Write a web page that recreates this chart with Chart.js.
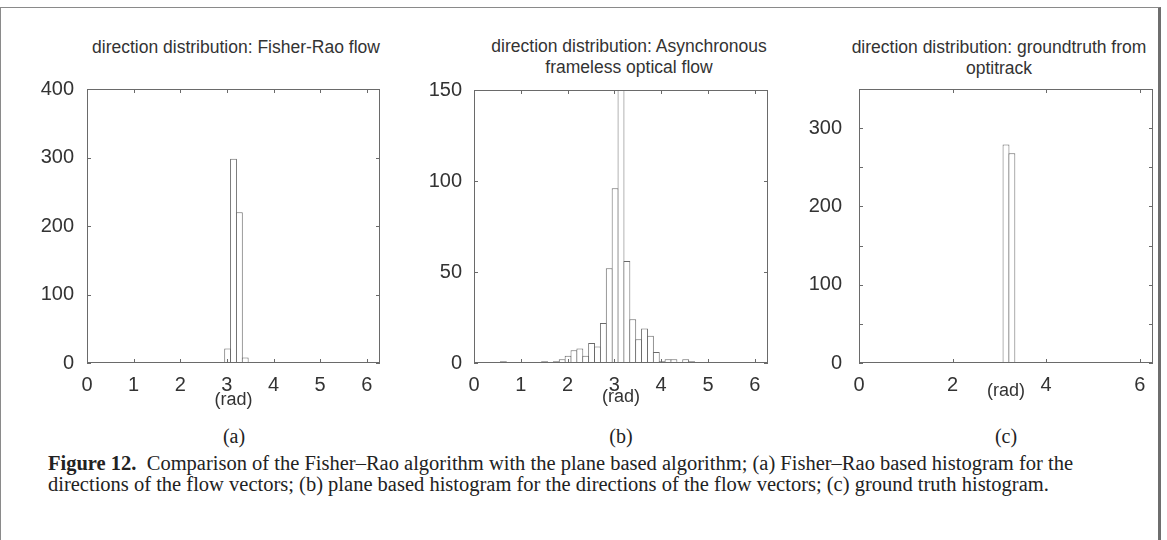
<!DOCTYPE html>
<html>
<head>
<meta charset="utf-8">
<script src="https://cdn.jsdelivr.net/npm/chart.js@4.4.1/dist/chart.umd.min.js"></script>
<style>
  body { margin: 0; background: #fff; width: 1167px; height: 540px; position: relative; overflow: hidden;
         font-family: "Liberation Sans", Arial, sans-serif; }
  .frame { position: absolute; left: 0; top: 7px; width: 1161px; height: 540px; box-sizing: border-box;
           border-top: 1px solid #8a8a8a; border-left: 1px solid #8a8a8a; border-right: 3px solid #6e6e6e; }
  canvas { position: absolute; }
  .ptitle { position: absolute; font-size: 17.5px; line-height: 21px; color: #333; text-align: center;
            white-space: nowrap; transform: translateX(-50%); }
  .sub { position: absolute; font-family: "Liberation Serif", serif; font-size: 20px; line-height: 24px;
         color: #222; transform: translateX(-50%); }
  .caption { position: absolute; left: 48px; top: 453px; font-family: "Liberation Serif", serif;
             font-size: 20.5px; line-height: 21px; color: #222; white-space: nowrap; }
</style>
</head>
<body>
<div class="frame"></div>

<div class="ptitle" style="left:236px; top:37px;">direction distribution: Fisher-Rao flow</div>
<div class="ptitle" style="left:629px; top:36px;">direction distribution: Asynchronous<br>frameless optical flow</div>
<div class="ptitle" style="left:999px; top:37px;">direction distribution: groundtruth from<br>optitrack</div>

<canvas id="chart-fisher" width="358" height="354" style="left:27px; top:57px;"></canvas>
<canvas id="chart-afof" width="359" height="350" style="left:414px; top:58px;"></canvas>
<canvas id="chart-truth" width="359" height="345" style="left:799px; top:57px;"></canvas>

<div class="sub" style="left:234px; top:424px;">(a)</div>
<div class="sub" style="left:621px; top:424px;">(b)</div>
<div class="sub" style="left:1006px; top:424px;">(c)</div>

<div class="caption"><b>Figure 12.</b>&nbsp; Comparison of the Fisher–Rao algorithm with the plane based algorithm; (a) Fisher–Rao based histogram for the<br>directions of the flow vectors; (b) plane based histogram for the directions of the flow vectors; (c) ground truth histogram.</div>

<script>
// Histogram bins (rad) and counts
const X_MAX = 6.2832;

const fisherBins = [3.0159, 3.1416, 3.2673, 3.3929];
const fisherCounts = [21, 298, 220, 8];
const fisherXTicks = [0, 1, 2, 3, 4, 5, 6];
const fisherYTicks = [0, 100, 200, 300, 400];

const afofBins = [0.6283, 1.5080, 1.7593, 1.8850, 2.0106, 2.1363, 2.2619, 2.3876, 2.5133, 2.6389,
                  2.7646, 2.8903, 3.0159, 3.1416, 3.2673, 3.3929, 3.5186, 3.6442, 3.7699, 3.8956,
                  4.0212, 4.1469, 4.2726, 4.5239, 4.6496];
const afofCounts = [1, 1, 1, 2, 4, 7, 8, 4, 11, 9,
                    22, 52, 96, 188, 56, 24, 13, 19, 15, 6,
                    1, 2, 2, 2, 1];
const afofXTicks = [0, 1, 2, 3, 4, 5, 6];
const afofYTicks = [0, 50, 100, 150];

const truthBins = [3.1416, 3.2673];
const truthCounts = [279, 268];
const truthXTicks = [0, 2, 4, 6];
const truthYTicks = [0, 50, 100, 150, 200, 250, 300];
const truthYLabels = [0, 100, 200, 300];

const AXIS_COLOR = '#6a6a6a';
const TEXT_COLOR = '#333';
const FONT = '"Liberation Sans", Arial, sans-serif';

/** Draws the box around the plot and the small inward tick marks. */
const framePlugin = {
    id: 'frame',
    afterDatasetsDraw(chart) {
        const { ctx, chartArea: a, scales: { x, y } } = chart;
        const len = 4;
        ctx.save();
        ctx.strokeStyle = AXIS_COLOR;
        ctx.lineWidth = 1;
        ctx.strokeRect(a.left + 0.5, a.top + 0.5, a.right - a.left - 1, a.bottom - a.top - 1);
        ctx.beginPath();
        x.ticks.forEach(t => {
            const px = Math.round(x.getPixelForValue(t.value)) + 0.5;
            ctx.moveTo(px, a.bottom); ctx.lineTo(px, a.bottom - len);
            ctx.moveTo(px, a.top); ctx.lineTo(px, a.top + len);
        });
        y.ticks.forEach(t => {
            const py = Math.round(y.getPixelForValue(t.value)) + 0.5;
            ctx.moveTo(a.left, py); ctx.lineTo(a.left + len, py);
            ctx.moveTo(a.right, py); ctx.lineTo(a.right - len, py);
        });
        ctx.stroke();
        ctx.restore();
    }
};

/** Builds one histogram panel. */
function renderHistogram(canvasId, bins, counts, cfg) {
    const ctx = document.getElementById(canvasId).getContext('2d');
    const labelSet = cfg.yLabels || cfg.yTicks;

    return new Chart(ctx, {
        type: 'bar',
        data: {
            datasets: [{
                data: bins.map((b, i) => ({ x: b, y: counts[i] })),
                backgroundColor: '#fff',
                borderColor: AXIS_COLOR,
                borderWidth: 1,
                borderSkipped: 'start',
                barPercentage: 1.17,
                categoryPercentage: 1,
                inflateAmount: 0,
                clip: 0
            }]
        },
        options: {
            responsive: false,
            animation: false,
            events: [],
            // top padding is larger than the y label overhang so the plot box lands where we want it
            layout: { padding: { top: 32, right: 5, left: 0, bottom: 0 } },
            plugins: { legend: { display: false }, tooltip: { enabled: false } },
            scales: {
                x: {
                    type: 'linear', min: 0, max: X_MAX, offset: false,
                    grid: { display: false, drawTicks: false },
                    border: { display: false },
                    afterBuildTicks: s => { s.ticks = cfg.xTicks.map(v => ({ value: v })); },
                    afterFit: s => { s.height = cfg.xHeight; },
                    ticks: { padding: 10, color: TEXT_COLOR, font: { family: FONT, size: 20 },
                             maxRotation: 0, autoSkip: false, includeBounds: false },
                    title: { display: true, text: '(rad)', color: TEXT_COLOR,
                             font: { family: FONT, size: 18 }, padding: { top: 0, bottom: 0 } }
                },
                y: {
                    type: 'linear', min: 0, max: cfg.yMax,
                    grid: { display: false, drawTicks: false },
                    border: { display: false },
                    afterBuildTicks: s => { s.ticks = cfg.yTicks.map(v => ({ value: v })); },
                    afterFit: s => { s.width = 60; },
                    ticks: {
                        padding: cfg.yPad, color: TEXT_COLOR, font: { family: FONT, size: 20 },
                        autoSkip: false,
                        callback: v => labelSet.includes(v) ? String(v) : ''
                    }
                }
            }
        },
        plugins: [framePlugin]
    });
}

renderHistogram('chart-fisher', fisherBins, fisherCounts,
    { xTicks: fisherXTicks, yTicks: fisherYTicks, yMax: 400, yPad: 13, xHeight: 48 });
renderHistogram('chart-afof', afofBins, afofCounts,
    { xTicks: afofXTicks, yTicks: afofYTicks, yMax: 150, yPad: 12, xHeight: 45 });
renderHistogram('chart-truth', truthBins, truthCounts,
    { xTicks: truthXTicks, yTicks: truthYTicks, yLabels: truthYLabels, yMax: 350, yPad: 17, xHeight: 39 });
</script>
</body>
</html>
